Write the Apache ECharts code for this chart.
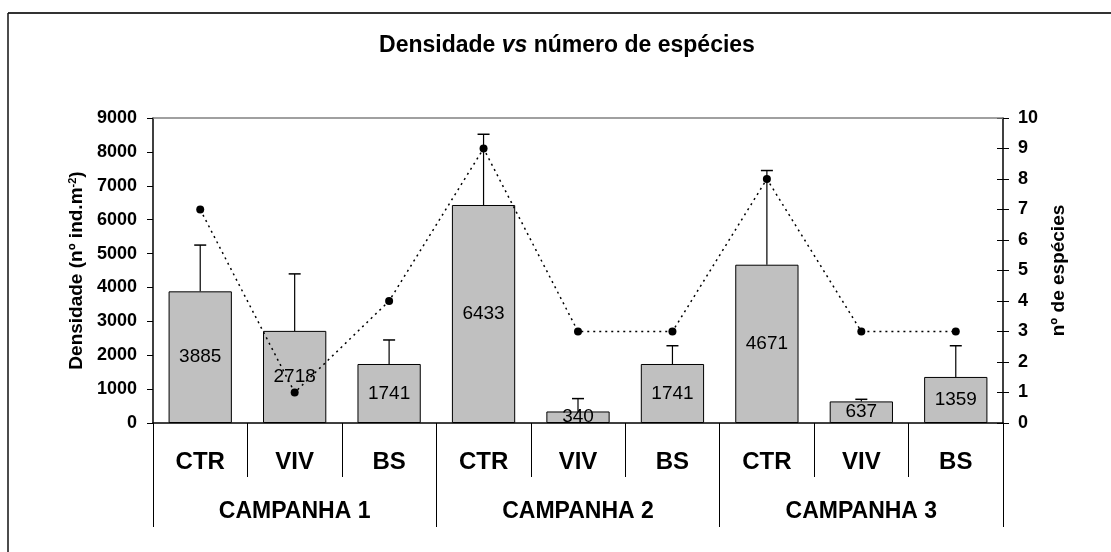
<!DOCTYPE html>
<html>
<head>
<meta charset="utf-8">
<script src="https://cdn.jsdelivr.net/npm/echarts@6/dist/echarts.min.js"></script>
<style>
html, body { margin: 0; padding: 0; background: #fff; }
#chart { width: 1111px; height: 552px; }
</style>
</head>
<body>
<div id="chart"></div>
<script>
// dados
var tratamentos = ['CTR', 'VIV', 'BS', 'CTR', 'VIV', 'BS', 'CTR', 'VIV', 'BS'];
var campanhas = ['CAMPANHA 1', 'CAMPANHA 2', 'CAMPANHA 3'];
var densidade = [3885, 2718, 1741, 6433, 340, 1741, 4671, 637, 1359];
var desvio = [1365, 1682, 709, 2087, 380, 539, 2779, 62, 921];
var especies = [7, 1, 4, 9, 3, 3, 8, 3, 3];
var escalaDens = { min: 0, max: 9000, interval: 1000 };
var escalaEsp = { min: 0, max: 10, interval: 1 };

var fonte = 'Liberation Sans, Arial, sans-serif';

var erros = densidade.map(function (v, i) { return [i, v, v + desvio[i]]; });

var option = {
    animation: false,
    backgroundColor: '#fff',
    textStyle: { fontFamily: fonte, color: '#000' },
    grid: {
        left: 153, right: 108, top: 118, bottom: 129
    },
    graphic: [
        { type: 'line', shape: { x1: 8, y1: 13, x2: 1111, y2: 13 }, style: { stroke: '#333', lineWidth: 2 } },
        { type: 'line', shape: { x1: 8, y1: 13, x2: 8, y2: 552 }, style: { stroke: '#111', lineWidth: 1.5 } },
        {
            type: 'text', x: 567, y: 46,
            style: {
                text: '{b|Densidade }{i|vs}{b| número de espécies}',
                align: 'center', verticalAlign: 'middle',
                rich: {
                    b: { fontFamily: fonte, fontSize: 23, fontWeight: 'bold', fill: '#000' },
                    i: { fontFamily: fonte, fontSize: 23, fontWeight: 'bold', fontStyle: 'italic', fill: '#000' }
                }
            }
        }
    ],
    xAxis: [
        {
            type: 'category',
            data: tratamentos,
            boundaryGap: true,
            axisLine: { show: true, lineStyle: { color: '#000', width: 1.5 } },
            axisTick: { show: true, interval: 0, length: 54, lineStyle: { color: '#000', width: 1 } },
            axisLabel: { interval: 0, margin: 27, fontSize: 24, fontWeight: 'bold', color: '#000', fontFamily: fonte },
            splitLine: { show: false }
        },
        {
            type: 'category',
            data: campanhas,
            position: 'bottom',
            boundaryGap: true,
            axisLine: { show: false },
            axisTick: { show: true, interval: 0, length: 104, lineStyle: { color: '#000', width: 1 } },
            axisLabel: { interval: 0, margin: 77, fontSize: 23, fontWeight: 'bold', color: '#000', fontFamily: fonte },
            splitLine: { show: false }
        }
    ],
    yAxis: [
        {
            type: 'value',
            position: 'left',
            min: escalaDens.min, max: escalaDens.max, interval: escalaDens.interval,
            name: '{a|Densidade (nº ind.m}{s|-2}{a|)}',
            nameLocation: 'middle',
            nameRotate: 90,
            nameGap: 66,
            nameTextStyle: {
                rich: {
                    a: { fontFamily: fonte, fontSize: 19, fontWeight: 'bold', color: '#000' },
                    s: { fontFamily: fonte, fontSize: 11, fontWeight: 'bold', color: '#000', verticalAlign: 'top' }
                }
            },
            axisLine: { show: true, lineStyle: { color: '#000', width: 1.5 } },
            axisTick: { show: true, length: 6, lineStyle: { color: '#000' } },
            axisLabel: {
                margin: 16, fontSize: 18, fontWeight: 'bold', color: '#000', fontFamily: fonte,
                formatter: function (v) { return String(v); }
            },
            splitLine: { show: false }
        },
        {
            type: 'value',
            position: 'right',
            min: escalaEsp.min, max: escalaEsp.max, interval: escalaEsp.interval,
            name: 'nº de espécies',
            nameLocation: 'middle',
            nameRotate: 90,
            nameGap: 45,
            nameTextStyle: { fontFamily: fonte, fontSize: 19, fontWeight: 'bold', color: '#000' },
            axisLine: { show: true, lineStyle: { color: '#000', width: 1.5 } },
            axisTick: { show: true, length: 6, lineStyle: { color: '#000' } },
            axisLabel: { margin: 15, fontSize: 18, fontWeight: 'bold', color: '#000', fontFamily: fonte },
            splitLine: { show: false }
        },
        {
            // tracinhos do lado de dentro do eixo direito
            type: 'value',
            position: 'right',
            min: escalaEsp.min, max: escalaEsp.max, interval: escalaEsp.interval,
            axisLine: { show: false },
            axisTick: { show: true, inside: true, length: 6, lineStyle: { color: '#000' } },
            axisLabel: { show: false },
            splitLine: { show: false }
        }
    ],
    series: [
        {
            name: 'Densidade',
            type: 'bar',
            data: densidade,
            barWidth: '67%',
            itemStyle: { color: '#C0C0C0', borderColor: '#000', borderWidth: 1 },
            label: { show: true, position: 'inside', fontSize: 19, color: '#000', fontFamily: fonte },
            z: 2
        },
        {
            name: 'Erro',
            type: 'custom',
            yAxisIndex: 0,
            data: erros,
            renderItem: function (params, api) {
                var x = api.value(0);
                var base = api.coord([x, api.value(1)]);
                var topo = api.coord([x, api.value(2)]);
                return {
                    type: 'group',
                    children: [
                        { type: 'line', shape: { x1: base[0], y1: base[1], x2: topo[0], y2: topo[1] }, style: { stroke: '#000', lineWidth: 1.2 } },
                        { type: 'line', shape: { x1: topo[0] - 6, y1: topo[1], x2: topo[0] + 6, y2: topo[1] }, style: { stroke: '#000', lineWidth: 1.5 } }
                    ]
                };
            },
            z: 3
        },
        {
            name: 'nº de espécies',
            type: 'line',
            yAxisIndex: 1,
            data: especies,
            symbol: 'circle',
            symbolSize: 8,
            itemStyle: { color: '#000' },
            lineStyle: { color: '#000', width: 1.5, type: [2, 4] },
            z: 4
        }
    ]
};

var myChart = echarts.init(document.getElementById('chart'));
myChart.setOption(option);

// linha cinzenta no topo da area do grafico, posta pela escala do eixo
var gridRect = myChart.getModel().getComponent('grid', 0).coordinateSystem.getRect();
var yTopo = myChart.convertToPixel({ yAxisIndex: 0 }, escalaDens.max);
myChart.setOption({
    graphic: [
        {}, {}, {},
        {
            type: 'line', z: 10,
            shape: { x1: gridRect.x, y1: yTopo, x2: gridRect.x + gridRect.width, y2: yTopo },
            style: { stroke: '#808080', lineWidth: 1.5 }
        }
    ]
});
</script>
</body>
</html>
